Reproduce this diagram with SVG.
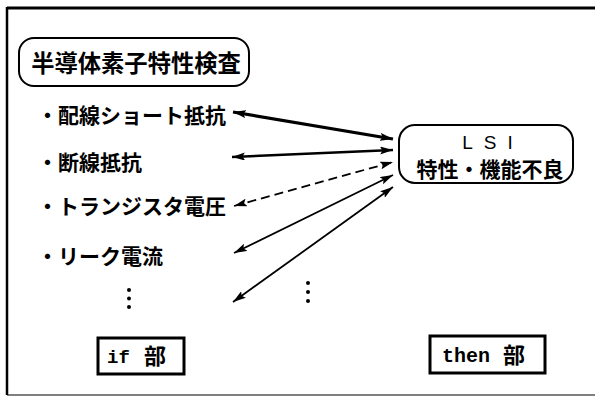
<svg xmlns="http://www.w3.org/2000/svg" width="595" height="397" viewBox="0 0 595 397">
<style>
.jp{font-family:"Noto Sans CJK JP","Noto Sans",sans-serif;font-weight:700;fill:#000}
.mono{font-family:"Liberation Mono","Noto Sans CJK JP",monospace;font-weight:700;fill:#000}
.box{fill:#fff;stroke:#000}
.con{fill:none;stroke:#000}
.item{font-size:21px}
</style>
<defs>
<marker id="ah" viewBox="0 0 13 8" refX="13" refY="4" markerWidth="13" markerHeight="8" markerUnits="userSpaceOnUse" orient="auto-start-reverse">
<path d="M0,0 L13,4 L0,8 L2.5,4 Z" fill="#000"/>
</marker>
</defs>
<rect width="595" height="397" fill="#fff"/>
<g id="frame">
<path d="M7,8 H595" stroke="#000" stroke-width="3" fill="none"/>
<path d="M7,7 V395" stroke="#000" stroke-width="2.5" fill="none"/>
<path d="M7,395 H595" stroke="#000" stroke-width="1.2" fill="none"/>
</g>
<g id="title">
<rect class="box" x="19" y="38" width="230" height="48" rx="15" stroke-width="2"/>
<text class="jp" x="136" y="72" font-size="23.3" text-anchor="middle">半導体素子特性検査</text>
</g>
<g id="item1"><text class="jp item" x="37" y="123">・配線ショート抵抗</text></g>
<g id="item2"><text class="jp item" x="37" y="170">・断線抵抗</text></g>
<g id="item3"><text class="jp item" x="37" y="214">・トランジスタ電圧</text></g>
<g id="item4"><text class="jp item" x="37" y="264">・リーク電流</text></g>
<g id="more-left">
<circle cx="129" cy="290" r="2"/><circle cx="129" cy="298.5" r="2"/><circle cx="129" cy="307" r="2"/>
</g>
<g id="lsi">
<rect class="box" x="399" y="125" width="174" height="58" rx="16" stroke-width="2"/>
<text x="493" y="149" font-family="'Liberation Sans',sans-serif" font-size="19" text-anchor="middle" letter-spacing="11">LSI</text>
<text class="jp" x="490" y="177" font-size="21" text-anchor="middle">特性・機能不良</text>
</g>
<g id="more-mid">
<circle cx="308" cy="283" r="2"/><circle cx="308" cy="292" r="2"/><circle cx="308" cy="301" r="2"/>
</g>
<g id="connectors">
<path class="con" d="M233,112 L393,139" stroke-width="3.2" marker-start="url(#ah)" marker-end="url(#ah)"/>
<path class="con" d="M232,157 L393,150" stroke-width="2.5" marker-start="url(#ah)" marker-end="url(#ah)"/>
<path class="con" d="M234,206 L393,162" stroke-width="1.8" stroke-dasharray="9,5" marker-start="url(#ah)" marker-end="url(#ah)"/>
<path class="con" d="M234,253 L393,175" stroke-width="1.8" marker-start="url(#ah)" marker-end="url(#ah)"/>
<path class="con" d="M233,302 L393,187" stroke-width="1.8" marker-start="url(#ah)" marker-end="url(#ah)"/>
</g>
<g id="if-part">
<rect class="box" x="98" y="338" width="86" height="36" stroke-width="3"/>
<text class="mono" x="107" y="363" font-size="19">if</text>
<text class="jp" x="144" y="364" font-size="22">部</text>
</g>
<g id="then-part">
<rect class="box" x="430" y="336" width="115" height="37" stroke-width="3"/>
<text class="mono" x="442" y="362" font-size="20">then</text>
<text class="jp" x="503" y="363" font-size="22">部</text>
</g>
</svg>
